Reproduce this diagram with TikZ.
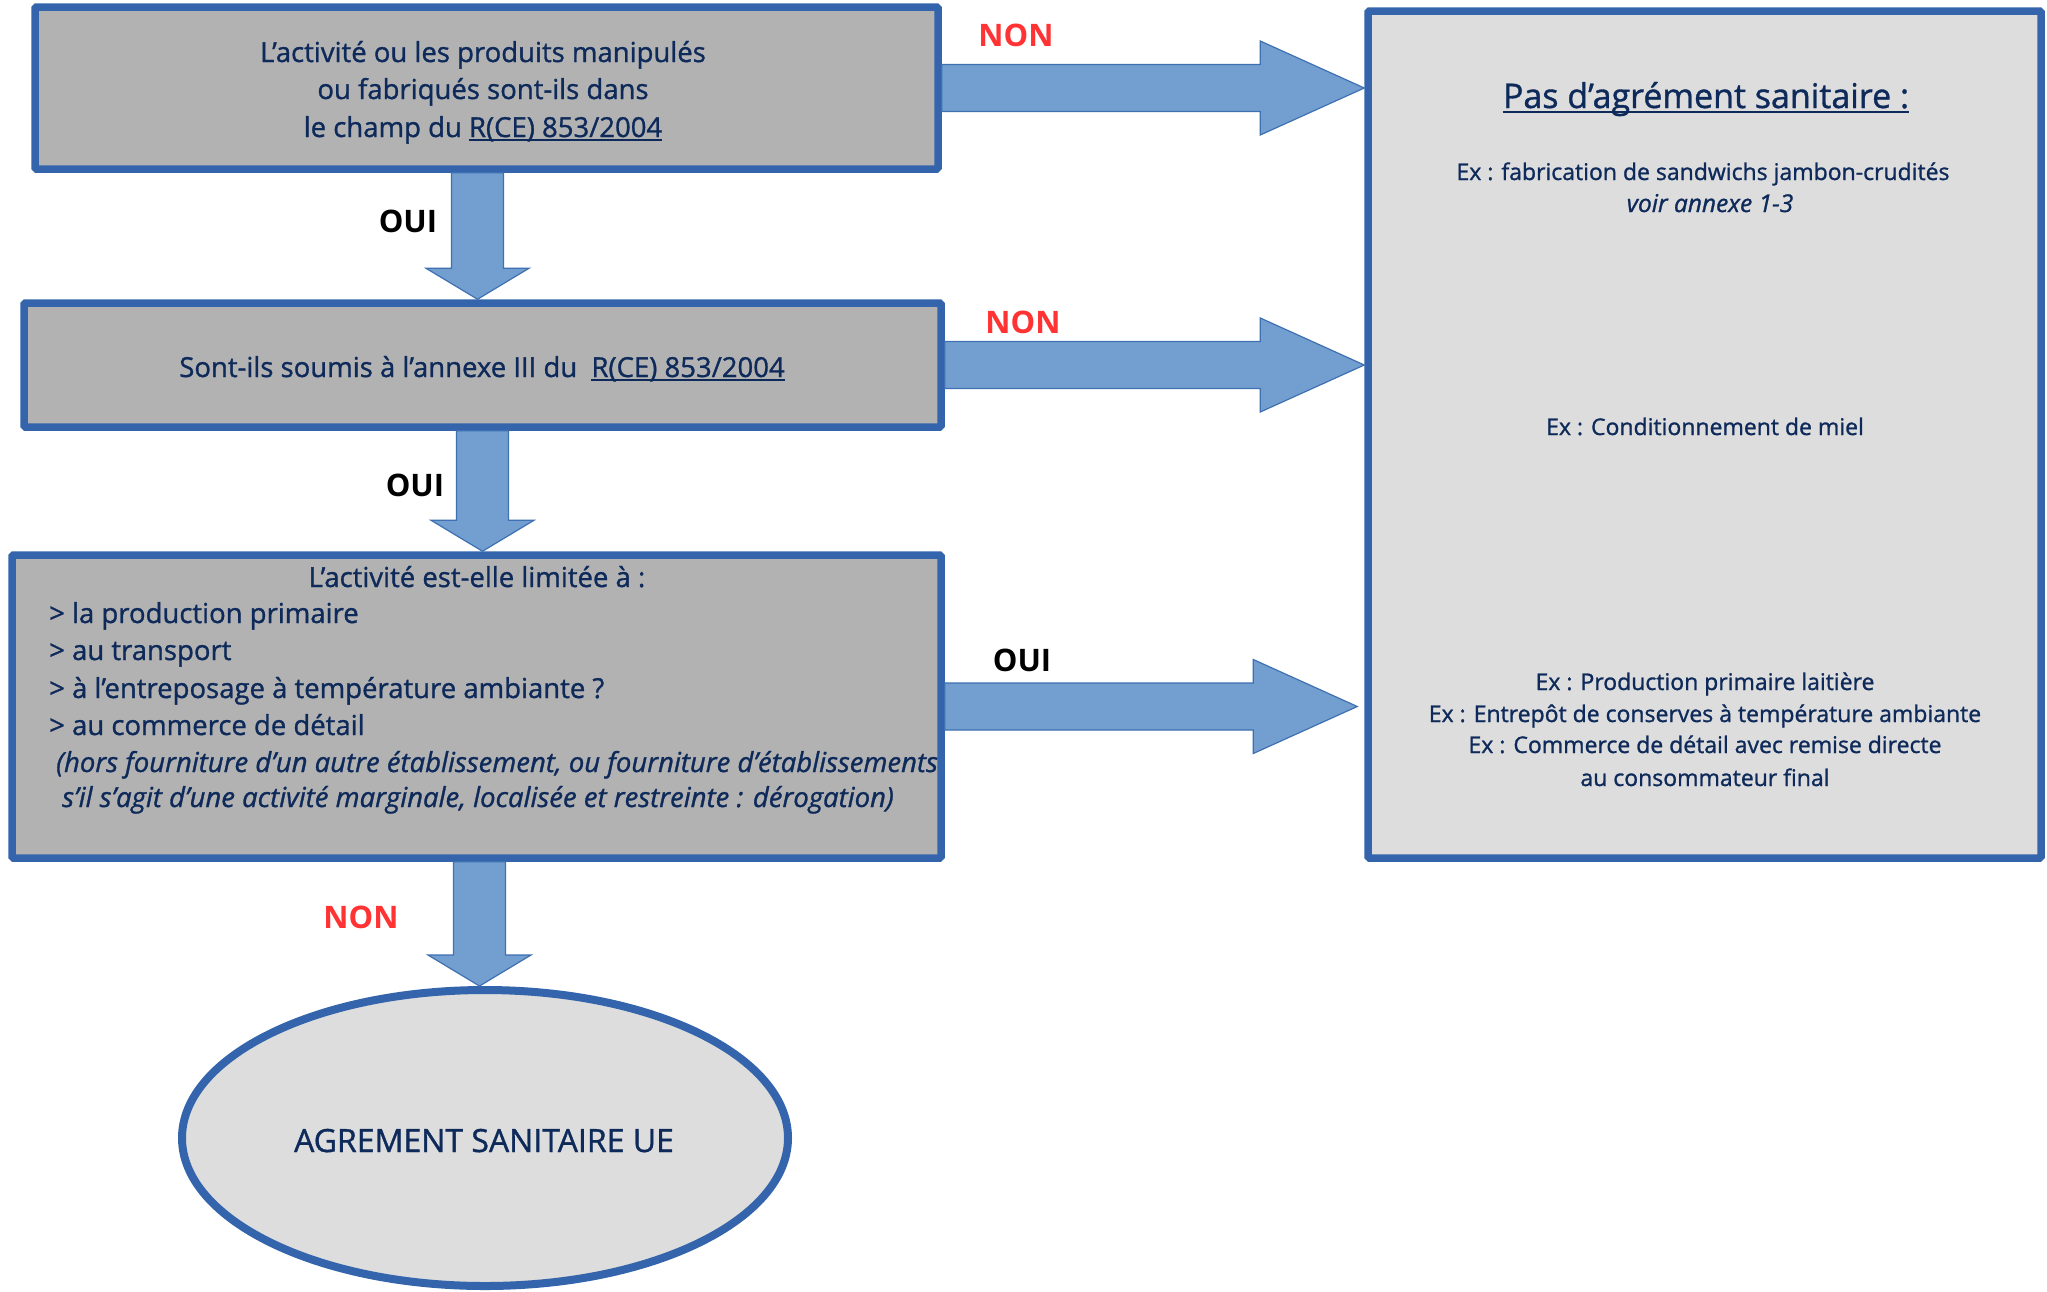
\documentclass[tikz,border=0pt]{standalone}
\usepackage{fontspec}
\setmainfont{Open Sans}[UprightFeatures={FakeBold=1.1}, ItalicFeatures={FakeBold=1.1}]
\usetikzlibrary{shapes.geometric,calc}
\definecolor{bordc}{RGB}{52,101,172}
\definecolor{boxg}{RGB}{178,178,178}
\definecolor{lightg}{RGB}{221,221,221}
\definecolor{arrf}{RGB}{114,159,207}
\definecolor{arrd}{RGB}{62,112,178}
\definecolor{navy}{RGB}{14,42,90}
\definecolor{nonred}{RGB}{255,51,51}
\newcommand\myul[1]{\setbox0\hbox{#1}\rlap{\rule[-0.16em]{\wd0}{0.075em}}\box0}
\newcommand\rblock[2]{\path[blockarr] let \p1=(#1), \p2=(#2) in
  (\x1,\y2+23.5pt) -- (\x2-104pt,\y2+23.5pt) -- (\x2-104pt,\y2+47pt) -- (\x2,\y2)
  -- (\x2-104pt,\y2-47pt) -- (\x2-104pt,\y2-23.5pt) -- (\x1,\y2-23.5pt) -- cycle;}
\newcommand\dblock[2]{\path[blockarr] let \p1=(#1), \p2=(#2) in
  (\x1-26pt,\y1) -- (\x1-26pt,\y2+31pt) -- (\x1-51.5pt,\y2+31pt) -- (\x1,\y2)
  -- (\x1+51.5pt,\y2+31pt) -- (\x1+26pt,\y2+31pt) -- (\x1+26pt,\y1) -- cycle;}
\begin{document}
\begin{tikzpicture}[x=1pt,y=-1pt,
  qbox/.style={draw=bordc, line width=7.5pt, fill=boxg, inner sep=0pt, rounded corners=1.5pt},
  rbox/.style={draw=bordc, line width=7.5pt, fill=lightg, inner sep=0pt, rounded corners=1.5pt},
  txt/.style={text=navy, inner sep=0pt, font=\fontsize{27.5}{33}\selectfont},
  itxt/.style={txt, font=\fontsize{27.5}{33}\selectfont\itshape},
  rtxt/.style={text=navy, inner sep=0pt, anchor=base, font=\fontsize{23}{27}\selectfont},
  oui/.style={text=black, inner sep=0pt, anchor=base, font=\fontsize{31}{36}\selectfont\bfseries},
  non/.style={text=nonred, inner sep=0pt, anchor=base, font=\fontsize{31}{36}\selectfont\bfseries},
  blockarr/.style={fill=arrf, draw=arrd, line width=1.2pt}]
\fill[white] (0,0) rectangle (2047,1291);
\useasboundingbox (0,0) rectangle (2047,1291);

% boxes
\node[qbox, minimum width=903pt, minimum height=162pt] (q1) at (486.5,88) {};
\node[qbox, minimum width=917pt, minimum height=124pt] (q2) at (482.5,365) {};
\node[qbox, minimum width=929pt, minimum height=303pt] (q3) at (476.5,706.5) {};
\node[rbox, minimum width=673pt, minimum height=847pt] (r) at (1704.5,434.5) {};
\node[ellipse, draw=bordc, line width=8pt, fill=lightg, minimum width=606pt, minimum height=296pt,
  inner sep=0pt] (e) at (485,1138) {};

% connectors
\coordinate (d1s) at ($(q1.south)+(-9,0)$);
\coordinate (d1e) at (d1s |- q2.north);
\coordinate (d2e) at (q2.south |- q3.north);
\coordinate (d3s) at ($(q3.south)+(3,0)$);
\coordinate (d3e) at (d3s |- e.north);
\coordinate (r1e) at (q1.east -| r.west);
\coordinate (r2e) at (q2.east -| r.west);
\coordinate (r3e) at ($(q3.east -| r.west)+(-7,0)$);
\dblock{d1s}{d1e}
\dblock{q2.south}{d2e}
\dblock{d3s}{d3e}
\rblock{q1.east}{r1e}
\rblock{q2.east}{r2e}
\rblock{q3.east}{r3e}

% box 1 and 2 text
\node[txt, anchor=base] (t1a) at (483,62) {L’activité ou les produits manipulés};
\node[txt, anchor=base] (t1b) at (483,99) {ou fabriqués sont-ils dans};
\node[txt, anchor=base] (t1c) at (483,137) {le champ du \myul{R(CE) 853/2004}};
\node[txt, anchor=base] (t2) at (482,377) {Sont-ils soumis à l’annexe III du\ \ \myul{R(CE) 853/2004}};

% box 3 text
\node[txt, anchor=base] (t3a) at (477,587) {L’activité est-elle limitée à :};
\node[txt, anchor=base west] (t3b) at (49,623) {> la production primaire};
\node[txt, anchor=base west] (t3c) at (49,660) {> au transport};
\node[txt, anchor=base west] (t3d) at (49,698) {> à l’entreposage à température ambiante ?};
\node[txt, anchor=base west] (t3e) at (49,735) {> au commerce de détail};
\node[itxt, anchor=base west] (t3f) at (56,772)
  {(hors fourniture d’un autre établissement, ou fourniture d’établissements};
\node[itxt, anchor=base west] (t3g) at (62,807)
  {s’il s’agit d’une activité marginale, localisée et restreinte : dérogation)};

% ellipse text
\node[text=navy, inner sep=0pt, anchor=base, font=\fontsize{32}{38}\selectfont] (et) at (484,1152) {AGREMENT SANITAIRE UE};

% right box text
\node[rtxt, font=\fontsize{34}{40}\selectfont] (rt1) at (1706,108) {\myul{Pas d’agrément sanitaire :}};
\node[rtxt] (rt2) at (1703,180) {Ex : fabrication de sandwichs jambon-crudités};
\node[rtxt, font=\fontsize{24.5}{28}\selectfont\itshape] (rt3) at (1710,212) {voir annexe 1-3};
\node[rtxt] (rt4) at (1705,435) {Ex : Conditionnement de miel};
\node[rtxt] (rt5) at (1705,690) {Ex : Production primaire laitière};
\node[rtxt] (rt6) at (1705,722) {Ex : Entrepôt de conserves à température ambiante};
\node[rtxt] (rt7) at (1705,753) {Ex : Commerce de détail avec remise directe};
\node[rtxt] (rt8) at (1705,786) {au consommateur final};

% labels
\node[non] (n1) at (1016,46) {NON};
\node[non] (n2) at (1023,333) {NON};
\node[oui] (o3) at (1022,671) {OUI};
\node[oui] (o1) at (408,232) {OUI};
\node[oui] (o2) at (415,496) {OUI};
\node[non] (n3) at (361,928) {NON};
\end{tikzpicture}
\end{document}
